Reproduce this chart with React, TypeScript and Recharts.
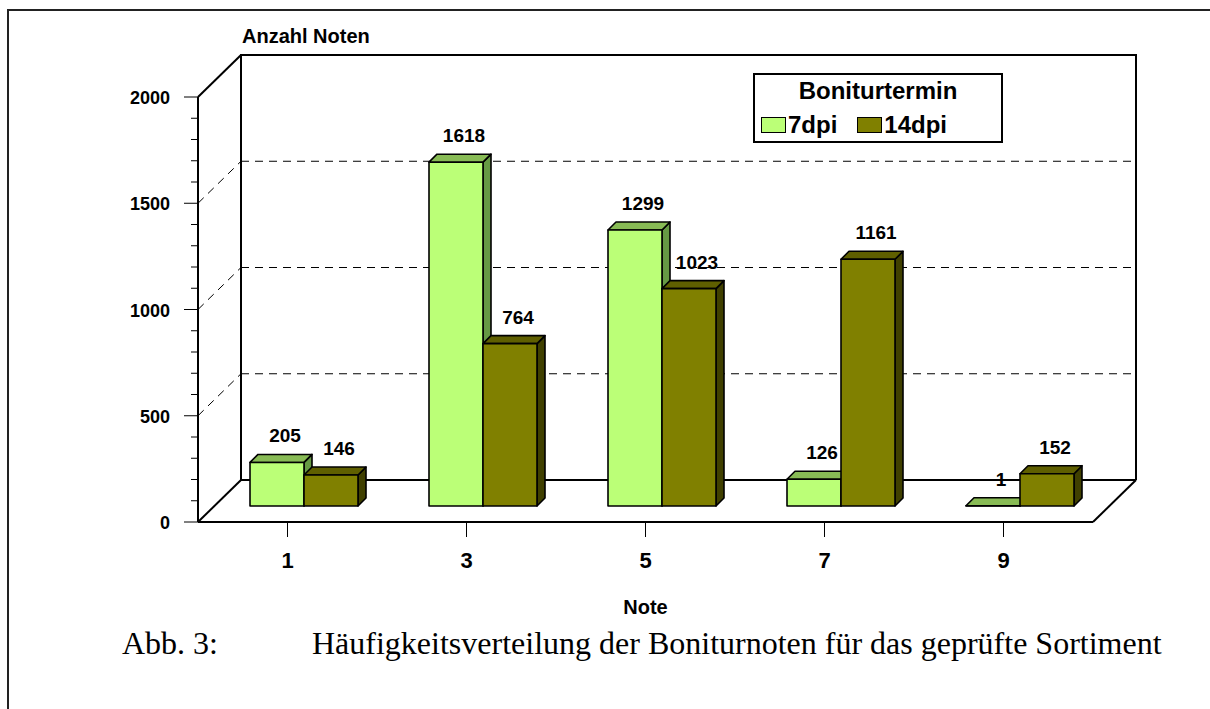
import React from 'react';
import { Bar, BarChart, CartesianGrid, LabelList, Legend, XAxis, YAxis } from 'recharts';

const notes = ['1', '3', '5', '7', '9'];
const dpi7 = [205, 1618, 1299, 126, 1];
const dpi14 = [146, 764, 1023, 1161, 152];
const seriesNames = ['7dpi', '14dpi'];
const yTicks = [0, 100, 200, 300, 400, 500, 600, 700, 800, 900, 1000, 1100, 1200, 1300, 1400, 1500, 1600, 1700, 1800, 1900, 2000];
const yLabels = [0, 500, 1000, 1500, 2000];
const gridValues = [500, 1000, 1500];

const data = notes.map((note, i) => ({ note, dpi7: dpi7[i], dpi14: dpi14[i] }));

const W = 1210;
const H = 709;
const PLOT_L = 198;
const PLOT_T = 97;
const PLOT_R = 1093;
const PLOT_B = 522;
const DX = 43; // depth of the walls
const DY = 42;
const OFF = 16; // bars stand a bit behind the front edge
const BD = 8; // bar depth

const SANS = '"Liberation Sans", Arial, sans-serif';
const SERIF = '"Liberation Serif", "Times New Roman", serif';

const colors = {
  dpi7: { front: '#bbff77', top: '#88bb55', side: '#669944' },
  dpi14: { front: '#808000', top: '#5f5f00', side: '#404000' },
};

function Box3D(props: any) {
  const { x, y, width, height, front, top, side } = props;
  if (x == null || y == null) return null;
  const X = x + OFF;
  const Y = y - OFF;
  const w = width;
  const h = Math.max(height, 0);
  return (
    <g stroke="#000" strokeWidth={1.6} strokeLinejoin="round">
      <polygon points={`${X + w},${Y} ${X + w + BD},${Y - BD} ${X + w + BD},${Y + h - BD} ${X + w},${Y + h}`} fill={side} />
      <polygon points={`${X},${Y} ${X + BD},${Y - BD} ${X + w + BD},${Y - BD} ${X + w},${Y}`} fill={top} />
      <rect x={X} y={Y} width={w} height={h} fill={front} />
    </g>
  );
}

const renderValue = (props: any) => {
  const { x, y, width, value } = props;
  return (
    <text
      x={x + width / 2 + OFF + 8}
      y={y - OFF - 20}
      textAnchor="middle"
      fontFamily={SANS}
      fontWeight="bold"
      fontSize={19}
      fill="#000"
    >
      {value}
    </text>
  );
};

const renderGridLine = (props: any) => {
  const { x1, x2, y1 } = props;
  return (
    <g key={`grid-${y1}`} stroke="#000" strokeWidth={1} strokeDasharray="8 6" fill="none">
      <line x1={x1} y1={y1} x2={x1 + DX} y2={y1 - DY} />
      <line x1={x1 + DX} y1={y1 - DY} x2={x2 + DX} y2={y1 - DY} />
    </g>
  );
};

const YTick = (props: any) => {
  const { x, y, payload } = props;
  const major = yLabels.includes(payload.value);
  return (
    <g>
      <line x1={x - (major ? 14 : 7)} y1={y} x2={x} y2={y} stroke="#000" strokeWidth={1} />
      {major && (
        <text x={x - 28} y={y + 7} textAnchor="end" fontFamily={SANS} fontWeight="bold" fontSize={18} fill="#000">
          {payload.value}
        </text>
      )}
    </g>
  );
};

const XTick = (props: any) => {
  const { x, y, payload } = props;
  return (
    <g>
      <line x1={x} y1={y} x2={x} y2={y + 15} stroke="#000" strokeWidth={1} />
      <text x={x} y={y + 46} textAnchor="middle" fontFamily={SANS} fontWeight="bold" fontSize={22} fill="#000">
        {payload.value}
      </text>
    </g>
  );
};

const renderLegend = (props: any) => {
  const items = [...(props.payload || [])].sort(
    (a: any, b: any) => seriesNames.indexOf(a.value) - seriesNames.indexOf(b.value)
  );
  return (
    <div
      style={{
        position: 'relative',
        width: 250,
        height: 70,
        border: '2px solid #000',
        boxSizing: 'border-box',
        background: '#fff',
        fontFamily: SANS,
        fontWeight: 'bold',
        fontSize: 24,
        lineHeight: '24px',
        color: '#000',
      }}
    >
      <div style={{ position: 'absolute', left: 0, right: 0, top: 4, textAlign: 'center' }}>Boniturtermin</div>
      <div style={{ position: 'absolute', left: 6, top: 38, display: 'flex', alignItems: 'center' }}>
        {items.map((item: any, i: number) => (
          <div key={item.value} style={{ display: 'flex', alignItems: 'center', marginRight: i === 0 ? 20 : 0 }}>
            <span
              style={{
                display: 'inline-block',
                width: 23,
                height: 14,
                border: '1px solid #000',
                background: item.color,
                marginRight: 2,
              }}
            />
            <span>{item.value}</span>
          </div>
        ))}
      </div>
    </div>
  );
};

function Walls() {
  const line = { stroke: '#000', strokeWidth: 2, fill: 'none' };
  return (
    <svg width={W} height={H} style={{ position: 'absolute', left: 0, top: 0 }}>
      <polyline points={`${PLOT_L + DX},${PLOT_B - DY} ${PLOT_L + DX},${PLOT_T - DY} ${PLOT_R + DX},${PLOT_T - DY} ${PLOT_R + DX},${PLOT_B - DY}`} {...line} />
      <line x1={PLOT_L + DX} y1={PLOT_B - DY} x2={PLOT_R + DX} y2={PLOT_B - DY} {...line} />
      <line x1={PLOT_L} y1={PLOT_T} x2={PLOT_L + DX} y2={PLOT_T - DY} {...line} />
      <line x1={PLOT_L} y1={PLOT_B} x2={PLOT_L + DX} y2={PLOT_B - DY} {...line} />
      <line x1={PLOT_R} y1={PLOT_B} x2={PLOT_R + DX} y2={PLOT_B - DY} {...line} />
    </svg>
  );
}

export default function App() {
  return (
    <div style={{ position: 'absolute', left: 0, top: 0, width: W, height: H, overflow: 'hidden', background: '#fff' }}>
      <div
        style={{
          position: 'absolute',
          left: 7,
          top: 9,
          width: W,
          height: H,
          borderLeft: '2px solid #222',
          borderTop: '2px solid #222',
        }}
      />
      <Walls />
      <div style={{ position: 'absolute', left: 0, top: 0 }}>
        <BarChart
          width={W}
          height={H}
          data={data}
          margin={{ top: PLOT_T, left: PLOT_L - 60, right: W - PLOT_R, bottom: H - PLOT_B - 40 }}
          barCategoryGap={36}
          barGap={0}
        >
          <CartesianGrid vertical={false} horizontal={renderGridLine} horizontalValues={gridValues} />
          <XAxis
            dataKey="note"
            height={40}
            tickSize={0}
            tickMargin={0}
            tickLine={false}
            axisLine={{ stroke: '#000', strokeWidth: 2 }}
            tick={<XTick />}
            label={{
              content: (p: any) => {
                const vb = p.viewBox;
                return (
                  <text x={vb.x + vb.width / 2} y={614} textAnchor="middle" fontFamily={SANS} fontWeight="bold" fontSize={20} fill="#000">
                    Note
                  </text>
                );
              },
            }}
          />
          <YAxis
            type="number"
            domain={[0, 2000]}
            ticks={yTicks}
            interval={0}
            width={60}
            tickSize={0}
            tickMargin={0}
            tickLine={false}
            axisLine={{ stroke: '#000', strokeWidth: 2 }}
            tick={<YTick />}
            label={{
              content: () => (
                <text x={242} y={43} fontFamily={SANS} fontWeight="bold" fontSize={20} fill="#000">
                  Anzahl Noten
                </text>
              ),
            }}
          />
          <Legend
            layout="horizontal"
            verticalAlign="middle"
            align="center"
            content={renderLegend}
            wrapperStyle={{ left: 753, top: 73, width: 250, height: 70 }}
          />
          <Bar
            dataKey="dpi7"
            name="7dpi"
            fill={colors.dpi7.front}
            isAnimationActive={false}
            shape={(p: any) => <Box3D {...p} {...colors.dpi7} />}
          >
            <LabelList dataKey="dpi7" content={renderValue} />
          </Bar>
          <Bar
            dataKey="dpi14"
            name="14dpi"
            fill={colors.dpi14.front}
            isAnimationActive={false}
            shape={(p: any) => <Box3D {...p} {...colors.dpi14} />}
          >
            <LabelList dataKey="dpi14" content={renderValue} />
          </Bar>
        </BarChart>
      </div>
      <div style={{ position: 'absolute', left: 122, top: 625, fontFamily: SERIF, fontSize: 32, lineHeight: '36px', color: '#000' }}>
        Abb. 3:
      </div>
      <div style={{ position: 'absolute', left: 312, top: 625, fontFamily: SERIF, fontSize: 32, lineHeight: '36px', color: '#000' }}>
        Häufigkeitsverteilung der Boniturnoten für das geprüfte Sortiment
      </div>
    </div>
  );
}
